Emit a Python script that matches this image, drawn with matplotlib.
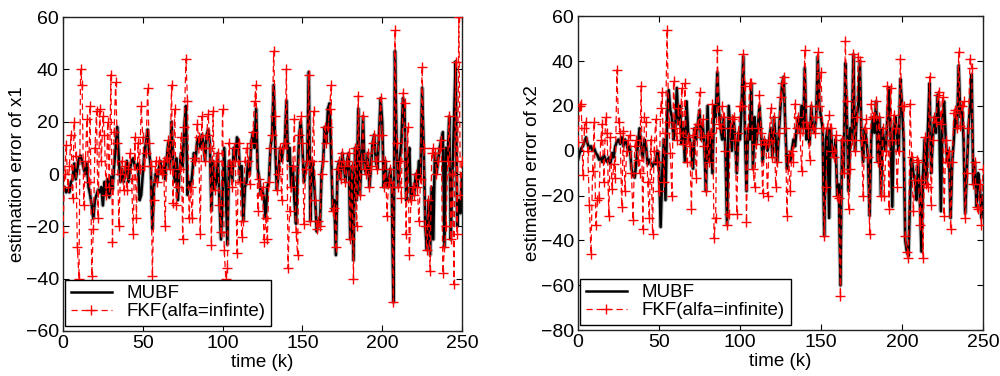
import matplotlib
matplotlib.use("Agg")
import matplotlib.pyplot as plt
import numpy as np

plt.rcParams['font.family'] = ['Liberation Sans', 'DejaVu Sans']

k = list(range(251))

mubf_x1 = [
    -6, -5, -7, -6, -7, -3, -2, 4, -2, 2,
    6, 7, 5, 2, 0, 4, -5, -8, -12, -17,
    -10, -8, -6, -7, -5, -12, -3, -8, -2, -9,
    -1, -6, 3, 10, 18, 5, -3, 2, -3, 0,
    5, -3, 2, 5, 6, 3, 2, 4, -10, -8,
    0, 8, 12, 17, 8, 3, -21, -5, 0, -3,
    2, 5, 0, 3, -2, 6, 12, 2, 20, 5,
    -3, 6, -10, 2, 8, 3, 18, 26, -8, -3,
    -5, 0, 8, 5, 12, 14, 10, 15, 12, 5,
    15, 17, 12, -14, 5, -6, -3, 8, -10, -25,
    -8, 10, -5, -27, 5, 3, -3, 10, 5, 14,
    12, -3, 3, -18, -5, -3, 5, 0, 12, 16,
    10, 25, 2, -2, -8, -6, -10, -17, -5, -3,
    10, 15, 34, 10, -6, 0, 10, 5, 10, 12,
    28, 5, 10, -5, 3, -10, -19, 0, 15, 20,
    10, -3, 2, 5, 39, -18, 5, 0, -10, -22,
    -18, -20, 0, 5, 18, 12, 25, 27, 8, -14,
    -10, -31, 2, 5, -2, 8, 3, -3, 5, 8,
    -25, 3, -33, 10, -10, 25, -8, 5, 22, 2,
    0, 8, -5, 3, 12, 15, 5, 2, 15, 29,
    20, -5, 5, -5, -3, 2, -5, -49, 47, 12,
    -5, 5, 12, 29, 25, -10, 5, 10, -10, -5,
    -8, 0, -5, 5, -2, 33, 10, -20, -29, -10,
    -31, -5, -25, 8, 0, 5, 10, 13, 16, -28,
    10, 5, 22, -25, 0, 20, 43, -20, -10, -15,
    0,
]

fkf_x1 = [
    -22, 0, 11, -5, 3, 15, -9, 20, 7, -28,
    -40, 40, 34, -12, 5, 21, -3, 26, -39, -21,
    10, 24, -17, 25, 5, 22, 15, -8, 20, -5,
    38, -26, 16, 35, 12, -20, 0, 5, -6, 3,
    -6, 2, 8, -2, -23, 14, -17, 12, 2, 26,
    14, 3, 8, 33, 12, 3, -39, -10, 5, -3,
    5, 2, 0, 5, -20, 6, 13, 2, 34, -11,
    25, -12, -5, 2, 14, -25, 18, 44, 28, -17,
    -5, -17, 6, 5, 19, 14, -23, 22, 10, 5,
    15, 23, 10, -27, 24, -6, 5, 8, -12, -22,
    25, -29, -40, -36, 12, 3, -5, 10, 5, -30,
    12, -3, -24, -18, 5, 10, 5, -4, 12, 16,
    28, 34, -14, -2, -8, -5, -26, -17, -25, -3,
    10, 15, 47, 22, -6, 0, 10, -10, 10, 12,
    40, -36, -14, -5, 3, 21, -22, -31, 15, 22,
    12, -19, 2, 5, 38, -18, 5, 24, -10, -21,
    -18, -20, 0, 5, 18, 12, 18, 25, 34, -14,
    -13, -28, 2, 5, -2, 8, 3, -3, 5, 8,
    -25, 3, -40, 10, -20, 30, -8, 5, 22, 2,
    0, 8, -5, 3, 12, 15, 5, 2, 15, 29,
    15, -5, 5, -16, -3, 2, -5, -49, 55, 12,
    -5, 5, -9, 31, 27, -23, 18, -31, -10, -5,
    -8, 0, -5, -18, -2, 41, 10, -20, -29, -10,
    -37, 8, 10, 8, 0, 5, 10, 13, -38, -28,
    -20, 5, 22, -25, 0, -42, 43, -23, 60, -8,
    5,
]

mubf_x2 = [
    -4, -1, 1, 2, 4, 6, 3, 1, 2, 0,
    1, -1, -2, -4, -3, -5, -2, -4, -5, -3,
    -6, -1, -3, 2, 4, 5, 3, 6, 2, 5,
    3, 0, 2, -8, -11, -12, -5, 3, 10, 2,
    -3, 5, 2, -6, -4, -6, -7, -5, -6, 0,
    -5, -34, -10, 5, -22, 15, 27, 18, 15, 5,
    10, 28, 12, 20, 3, 10, -5, 22, 8, 5,
    0, -8, 10, 5, 12, 18, 5, 12, 2, -18,
    20, -5, 8, -10, 20, 15, 35, 18, 10, 5,
    15, 0, -33, 20, 10, 0, 15, 5, -10, 8,
    5, 20, 42, 10, -18, 10, 5, 30, -8, 15,
    3, 10, 20, 8, -5, 5, 3, 0, 5, 10,
    -3, 15, 5, -5, 8, 20, 30, 33, 10, -8,
    -2, -5, 0, 5, 2, 10, 15, 8, 20, 10,
    37, 5, 10, 3, 20, 10, 8, 15, 42, 20,
    15, 10, -38, 5, 10, -30, 10, 0, -3, 5,
    -20, -15, -60, 5, -10, 39, 15, -18, 10, 5,
    43, 0, 15, 20, 40, 5, -5, 10, 5, -3,
    -29, 5, 15, 8, 22, -5, 15, -20, 10, 3,
    0, 15, 28, 5, -25, 10, 15, 5, 0, 32,
    20, 5, -40, -45, -47, -20, -3, -10, -13, -22,
    -5, -20, -45, -10, 5, -15, 10, 30, -10, 5,
    15, 8, 25, 12, -27, 15, 22, 5, -5, 0,
    -30, -5, 5, 18, 10, 38, 15, 20, 5, -28,
    -10, 10, 20, 34, -15, -5, -25, -10, -15, -30,
    -20,
]

fkf_x2 = [
    4, 20, 21, -11, 10, 13, 0, -24, -46, -9,
    13, -33, -22, -21, 5, 12, -14, 15, 8, -29,
    6, -17, -6, -12, 36, 13, 8, -25, 9, -18,
    0, 5, 7, -10, -31, 2, 5, -4, -10, 29,
    -35, 15, 13, -14, -30, 5, -37, 0, 14, -5,
    -18, 19, 26, -14, 8, 54, 13, -1, -20, 31,
    10, 5, 19, 8, 28, 3, 30, -5, 6, 2,
    -26, 7, 10, -12, 12, 26, 6, 14, 2, -18,
    7, -5, 8, 21, -39, -30, 45, 12, 10, 20,
    15, 0, -33, -28, 10, 14, 15, 5, -28, 8,
    20, 20, 43, 29, -32, 10, 30, 30, -8, -16,
    3, 10, 25, 8, -19, 5, 3, -20, 5, 19,
    -3, 15, -16, -5, 8, 24, 30, 33, 10, -29,
    -2, -18, 0, -5, 21, 10, 15, 8, -9, 10,
    45, 13, 10, -4, 20, 10, 8, 15, 44, 20,
    35, 10, -38, -16, 10, 16, 10, 0, -3, 7,
    -20, -21, -65, 5, -10, 49, 22, -26, -8, 5,
    43, 0, 15, 42, 40, 5, -20, 10, 14, -3,
    -37, 21, 15, 15, 22, -5, 15, -20, 10, -20,
    0, 29, -26, 28, 5, 16, 10, -16, 0, 41,
    20, 20, -38, -45, -48, 21, -3, -27, -13, -4,
    -5, -33, -13, -48, 6, -15, -16, 33, -24, 5,
    15, 13, 25, 26, 12, 24, -29, 5, -5, 0,
    -35, -5, 17, 18, 10, 44, 11, 20, 22, -30,
    -10, 10, 41, 37, -15, -5, -25, -26, -15, -33,
    -8,
]

x_ticks = [0, 50, 100, 150, 200, 250]
y_ticks_1 = [-60, -40, -20, 0, 20, 40, 60]
y_ticks_2 = [-80, -60, -40, -20, 0, 20, 40, 60]
labels_1 = ["MUBF", "FKF(alfa=infinte)"]
labels_2 = ["MUBF", "FKF(alfa=infinite)"]

fig = plt.figure(figsize=(10, 3.76), dpi=100)
ax1 = fig.add_axes([0.063, 0.1197, 0.399, 0.835])
ax2 = fig.add_axes([0.578, 0.122, 0.405, 0.835])

def draw(ax, m, f, yt, ylab, labs, ylim):
    ax.plot(k, m, color='#bbbbbb', lw=3.2, zorder=1, solid_capstyle='round')
    ax.plot(k, m, color='black', lw=1.8, label=labs[0], zorder=2)
    ax.plot(k, f, color='red', lw=0.9, ls=(0, (5, 3)), marker='+',
            markersize=6.5, markeredgewidth=1.0, label=labs[1], zorder=3)
    ax.set_xlim(0, 250)
    ax.set_ylim(*ylim)
    ax.set_xticks(x_ticks)
    ax.set_yticks(yt)
    ax.tick_params(direction='in', top=True, right=True, labelsize=14,
                   length=4, width=0.8, pad=3)
    ax.set_xlabel("time (k)", fontsize=13.5, labelpad=1)
    ax.set_ylabel(ylab, fontsize=13.5, labelpad=0)
    for s in ax.spines.values():
        s.set_linewidth(1.0)
        s.set_color('#222222')
    leg = ax.legend(loc='lower left', bbox_to_anchor=(0.005, 0.016),
                    borderaxespad=0, fontsize=13.5, fancybox=False,
                    framealpha=1, edgecolor='black', handlelength=2.2,
                    borderpad=0.3, labelspacing=0.05, handletextpad=0.8)
    leg.get_frame().set_linewidth(1.0)

draw(ax1, mubf_x1, fkf_x1, y_ticks_1, "estimation error of x1", labels_1, (-60, 60))
draw(ax2, mubf_x2, fkf_x2, y_ticks_2, "estimation error of x2", labels_2, (-80, 60))

fig.savefig("out.png", dpi=100)
